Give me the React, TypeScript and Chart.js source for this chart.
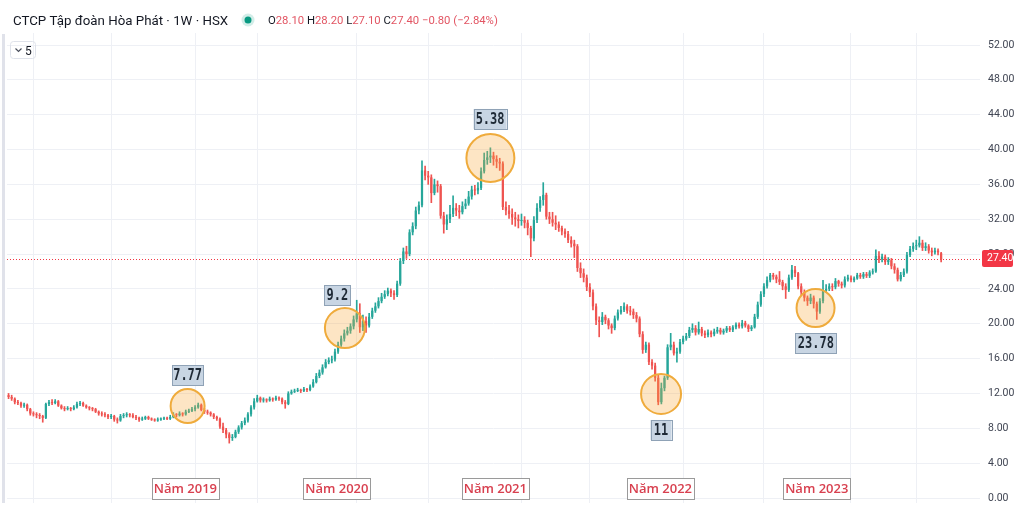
import React, { useEffect, useRef } from "react";
import { Chart, registerables } from "chart.js";

Chart.register(...registerables);

// Weekly OHLC of HPG, oldest first
const opens = [
  11.8, 11.6, 11.4, 11.0, 10.9, 10.6, 10.7, 10.2, 9.7, 9.6,
  9.5, 9.4, 9.2, 10.8, 11.0, 10.9, 11.1, 10.6, 10.3, 10.2,
  10.3, 10.2, 10.4, 10.8, 10.9, 10.6, 10.4, 10.3, 10.2, 9.9,
  9.7, 9.6, 9.5, 9.3, 9.4, 9.0, 8.9, 9.4, 9.5, 9.6,
  9.5, 9.3, 9.2, 9.0, 9.1, 9.3, 9.1, 9.0, 8.9, 9.0,
  9.1, 9.2, 9.1, 9.3, 9.6, 9.5, 9.7, 9.6, 9.9, 10.0,
  10.2, 10.4, 10.7, 10.1, 9.9, 9.8, 9.6, 9.3, 9.1, 8.2,
  7.8, 7.3, 6.9, 7.0, 7.6, 8.1, 8.6, 8.9, 9.6, 10.4,
  11.1, 11.5, 11.2, 11.3, 11.2, 11.4, 11.3, 11.5, 11.4, 11.0,
  10.8, 12.0, 12.2, 12.3, 12.4, 12.3, 12.5, 12.4, 12.8, 13.3,
  14.0, 14.4, 15.0, 15.6, 15.8, 15.9, 16.8, 17.6, 18.3, 18.9,
  19.2, 19.7, 20.5, 21.2, 19.6, 20.3, 19.8, 20.8, 21.5, 22.0,
  22.6, 23.1, 23.4, 23.8, 23.5, 23.3, 24.6, 27.2, 28.3, 28.0,
  30.5, 31.2, 33.0, 33.6, 37.6, 37.0, 36.8, 35.0, 36.0, 35.8,
  32.4, 31.4, 32.0, 32.6, 33.3, 33.0, 32.8, 33.5, 33.8, 34.6,
  35.4, 35.3, 35.6, 37.5, 38.8, 39.1, 39.3, 38.9, 38.6, 38.4,
  33.4, 33.0, 32.6, 32.2, 32.0, 31.8, 31.9, 31.6, 31.0, 29.8,
  31.9, 33.3, 34.2, 34.8, 32.3, 32.0, 31.6, 31.4, 31.0, 30.6,
  30.3, 29.6, 29.2, 28.9, 26.4, 25.8, 25.3, 24.2, 23.6, 22.0,
  20.4, 20.2, 20.8, 20.4, 19.8, 19.5, 20.6, 21.3, 21.6, 22.0,
  21.5, 21.4, 21.0, 20.6, 18.8, 17.0, 17.6, 15.6, 15.2, 13.8,
  11.0, 12.6, 13.8, 17.3, 17.6, 16.6, 16.8, 17.9, 18.3, 18.6,
  19.3, 19.5, 19.0, 19.4, 18.9, 18.7, 19.0, 18.8, 19.1, 19.3,
  19.0, 19.2, 19.5, 19.3, 19.6, 19.9, 19.7, 20.1, 19.8, 19.4,
  19.6, 20.8, 22.2, 23.4, 24.3, 25.0, 25.6, 25.4, 25.1, 24.8,
  24.3, 23.9, 25.3, 26.2, 25.8, 24.3, 23.6, 23.0, 22.6, 23.0,
  22.3, 21.4, 22.6, 23.8, 24.0, 24.3, 24.2, 24.9, 24.6, 24.4,
  25.1, 25.3, 25.0, 25.2, 25.6, 25.4, 25.7, 25.5, 25.9, 26.0,
  27.8, 27.4, 27.7, 27.1, 27.3, 26.6, 26.2, 25.1, 25.6, 26.0,
  27.9, 28.6, 28.9, 29.0, 29.3, 28.7, 28.9, 28.4, 28.2, 28.4, 28.1,
];

const highs = [
  12.0, 11.8, 11.5, 11.2, 11.0, 10.9, 10.8, 10.3, 9.9, 9.8,
  9.7, 9.5, 10.9, 11.2, 11.3, 11.3, 11.2, 10.7, 10.5, 10.5,
  10.4, 10.6, 11.0, 11.1, 11.0, 10.7, 10.5, 10.4, 10.3, 10.0,
  9.9, 9.8, 9.6, 9.6, 9.5, 9.2, 9.6, 9.7, 9.8, 9.7,
  9.7, 9.5, 9.3, 9.3, 9.4, 9.4, 9.2, 9.1, 9.2, 9.2,
  9.3, 9.3, 9.5, 9.8, 9.7, 9.9, 9.8, 10.1, 10.2, 10.4,
  10.6, 10.9, 10.8, 10.3, 10.1, 9.9, 9.7, 9.4, 9.2, 8.6,
  8.0, 7.5, 7.3, 7.8, 8.3, 8.8, 9.2, 9.8, 10.6, 11.4,
  11.8, 11.6, 11.5, 11.4, 11.6, 11.5, 11.7, 11.6, 11.5, 11.2,
  12.2, 12.4, 12.5, 12.6, 12.5, 12.7, 12.6, 13.0, 13.6, 14.3,
  14.7, 15.3, 15.9, 16.1, 16.3, 17.1, 17.9, 18.6, 19.3, 19.6,
  20.0, 20.9, 22.7, 22.3, 21.0, 20.8, 21.2, 21.8, 22.4, 23.0,
  23.5, 23.8, 24.1, 24.0, 23.8, 24.9, 27.5, 28.7, 28.9, 30.8,
  31.6, 33.4, 34.0, 38.7, 38.1, 37.5, 37.1, 36.6, 36.4, 36.0,
  32.8, 32.5, 33.6, 34.7, 33.8, 33.6, 34.0, 34.3, 35.2, 35.8,
  35.9, 36.2, 37.9, 39.6, 39.8, 40.2, 39.7, 39.3, 39.0, 38.6,
  34.0, 33.6, 33.2, 32.8, 32.5, 32.6, 32.3, 31.9, 31.2, 32.3,
  33.8, 34.6, 36.2, 35.0, 32.8, 32.8, 32.4, 31.7, 31.2, 30.9,
  30.6, 30.0, 29.6, 29.1, 27.0, 26.3, 25.6, 24.6, 23.9, 22.3,
  20.8, 21.3, 21.0, 20.6, 20.0, 20.9, 21.6, 22.0, 22.4, 22.2,
  22.0, 21.7, 21.3, 20.8, 19.1, 17.9, 17.8, 15.9, 15.5, 14.1,
  13.2, 14.0, 17.6, 18.9, 17.9, 17.2, 18.2, 18.6, 18.9, 19.6,
  20.0, 19.8, 20.2, 19.6, 19.2, 19.3, 19.2, 19.4, 19.6, 19.5,
  19.4, 19.7, 19.7, 19.8, 20.1, 20.1, 20.4, 20.3, 19.9, 19.8,
  21.1, 22.5, 23.7, 24.6, 25.4, 25.8, 25.8, 25.6, 26.0, 25.0,
  24.6, 25.6, 26.7, 26.6, 25.9, 24.6, 23.9, 23.2, 23.4, 23.2,
  22.5, 22.9, 25.0, 24.5, 24.6, 24.6, 25.2, 25.0, 24.8, 25.4,
  25.6, 25.5, 25.4, 25.8, 25.8, 25.9, 25.9, 26.1, 26.3, 28.5,
  28.3, 28.0, 27.9, 27.6, 27.5, 26.9, 26.4, 25.9, 26.3, 28.2,
  28.9, 29.3, 29.6, 30.0, 29.6, 29.3, 29.1, 28.7, 28.7, 28.6, 28.2,
];

const lows = [
  11.4, 11.2, 10.8, 10.7, 10.4, 10.4, 10.0, 9.5, 9.4, 9.2,
  9.1, 8.7, 9.1, 10.6, 10.7, 10.8, 10.5, 10.2, 10.0, 10.1,
  10.0, 10.1, 10.3, 10.6, 10.5, 10.3, 10.1, 10.0, 9.8, 9.5,
  9.4, 9.3, 9.1, 9.1, 8.8, 8.6, 8.8, 9.2, 9.3, 9.3,
  9.2, 9.0, 8.8, 8.9, 9.0, 9.0, 8.9, 8.8, 8.8, 8.9,
  9.0, 9.0, 9.0, 9.2, 9.3, 9.4, 9.4, 9.5, 9.8, 9.9,
  10.0, 10.3, 10.0, 9.7, 9.6, 9.4, 9.1, 8.9, 8.0, 7.5,
  6.9, 6.3, 6.6, 6.9, 7.4, 7.9, 8.4, 8.7, 9.4, 10.2,
  11.0, 11.0, 11.0, 11.0, 11.1, 11.1, 11.2, 11.2, 10.8, 10.3,
  10.7, 11.9, 12.1, 12.2, 12.1, 12.2, 12.2, 12.3, 12.7, 13.2,
  13.8, 14.2, 14.9, 15.4, 15.5, 15.7, 16.6, 17.4, 18.0, 18.7,
  18.9, 19.4, 20.2, 19.0, 19.2, 19.0, 19.6, 20.6, 21.3, 21.8,
  22.4, 22.9, 23.2, 23.1, 22.8, 23.1, 24.4, 26.9, 27.5, 27.8,
  30.2, 30.9, 32.6, 33.4, 36.5, 36.0, 33.9, 34.8, 35.1, 32.1,
  30.4, 30.8, 31.6, 32.3, 32.4, 32.1, 32.6, 33.2, 33.6, 34.3,
  34.8, 34.9, 35.4, 37.3, 38.3, 38.5, 38.2, 37.9, 37.6, 33.1,
  32.5, 32.1, 31.4, 31.2, 31.0, 31.3, 31.0, 30.2, 27.7, 29.5,
  31.6, 32.9, 33.6, 32.0, 31.5, 31.2, 30.8, 30.6, 30.2, 29.9,
  29.3, 28.8, 27.6, 26.0, 25.3, 24.8, 23.8, 23.1, 21.6, 19.9,
  18.5, 19.9, 20.0, 19.4, 18.9, 19.3, 20.4, 21.1, 21.4, 21.2,
  21.0, 20.6, 20.2, 18.5, 16.6, 16.7, 15.3, 14.8, 13.4, 10.7,
  10.8, 12.3, 13.6, 17.0, 16.4, 15.6, 16.6, 17.7, 18.1, 18.4,
  19.0, 18.7, 18.8, 18.6, 18.4, 18.5, 18.5, 18.6, 18.9, 18.8,
  18.8, 19.0, 19.1, 19.1, 19.4, 19.5, 19.5, 19.6, 19.1, 19.2,
  19.5, 20.6, 22.0, 23.1, 24.1, 24.8, 25.1, 24.7, 24.5, 23.9,
  22.9, 23.7, 25.1, 25.4, 24.0, 23.3, 22.6, 22.1, 22.3, 21.8,
  20.5, 21.2, 22.4, 23.6, 23.8, 23.8, 24.0, 24.3, 24.1, 24.2,
  24.9, 24.8, 24.8, 25.1, 25.2, 25.2, 25.3, 25.3, 25.7, 25.9,
  27.0, 27.1, 26.8, 26.8, 26.3, 25.8, 24.9, 24.9, 25.4, 25.8,
  27.7, 28.3, 28.5, 28.8, 28.4, 28.4, 28.1, 27.8, 28.0, 27.9, 27.1,
];

const closes = [
  11.6, 11.4, 11.0, 10.9, 10.6, 10.7, 10.2, 9.7, 9.6, 9.5,
  9.4, 9.2, 10.8, 11.0, 10.9, 11.1, 10.6, 10.3, 10.2, 10.3,
  10.2, 10.4, 10.8, 10.9, 10.6, 10.4, 10.3, 10.2, 9.9, 9.7,
  9.6, 9.5, 9.3, 9.4, 9.0, 8.9, 9.4, 9.5, 9.6, 9.5,
  9.3, 9.2, 9.0, 9.1, 9.3, 9.1, 9.0, 8.9, 9.0, 9.1,
  9.2, 9.1, 9.3, 9.6, 9.5, 9.7, 9.6, 9.9, 10.0, 10.2,
  10.4, 10.7, 10.1, 9.9, 9.8, 9.6, 9.3, 9.1, 8.2, 7.8,
  7.3, 6.9, 7.0, 7.6, 8.1, 8.6, 8.9, 9.6, 10.4, 11.1,
  11.5, 11.2, 11.3, 11.2, 11.4, 11.3, 11.5, 11.4, 11.0, 10.8,
  12.0, 12.2, 12.3, 12.4, 12.3, 12.5, 12.4, 12.8, 13.3, 14.0,
  14.4, 15.0, 15.6, 15.8, 15.9, 16.8, 17.6, 18.3, 18.9, 19.2,
  19.7, 20.5, 21.2, 19.6, 20.3, 19.8, 20.8, 21.5, 22.0, 22.6,
  23.1, 23.4, 23.8, 23.5, 23.3, 24.6, 27.2, 28.3, 28.0, 30.5,
  31.2, 33.0, 33.6, 37.6, 37.0, 36.8, 35.0, 36.0, 35.8, 32.4,
  31.4, 32.0, 32.6, 33.3, 33.0, 32.8, 33.5, 33.8, 34.6, 35.4,
  35.3, 35.6, 37.5, 38.8, 39.1, 39.3, 38.9, 38.6, 38.4, 33.4,
  33.0, 32.6, 32.2, 32.0, 31.8, 31.9, 31.6, 31.0, 29.8, 31.9,
  33.3, 34.2, 34.8, 32.3, 32.0, 31.6, 31.4, 31.0, 30.6, 30.3,
  29.6, 29.2, 28.9, 26.4, 25.8, 25.3, 24.2, 23.6, 22.0, 20.4,
  20.2, 20.8, 20.4, 19.8, 19.5, 20.6, 21.3, 21.6, 22.0, 21.5,
  21.4, 21.0, 20.6, 18.8, 17.0, 17.6, 15.6, 15.2, 13.8, 11.0,
  12.6, 13.8, 17.3, 17.6, 16.6, 16.8, 17.9, 18.3, 18.6, 19.3,
  19.5, 19.0, 19.4, 18.9, 18.7, 19.0, 18.8, 19.1, 19.3, 19.0,
  19.2, 19.5, 19.3, 19.6, 19.9, 19.7, 20.1, 19.8, 19.4, 19.6,
  20.8, 22.2, 23.4, 24.3, 25.0, 25.6, 25.4, 25.1, 24.8, 24.3,
  23.9, 25.3, 26.2, 25.8, 24.3, 23.6, 23.0, 22.6, 23.0, 22.3,
  21.4, 22.6, 23.8, 24.0, 24.3, 24.2, 24.9, 24.6, 24.4, 25.1,
  25.3, 25.0, 25.2, 25.6, 25.4, 25.7, 25.5, 25.9, 26.0, 27.8,
  27.4, 27.7, 27.1, 27.3, 26.6, 26.2, 25.1, 25.6, 26.0, 27.9,
  28.6, 28.9, 29.0, 29.3, 28.7, 28.9, 28.4, 28.2, 28.4, 28.2, 27.4,
];

// empty weeks kept on the right of the last candle (TradingView right margin)
const rightMarginWeeks = 12;
// y axis tick values
const yTickValues = [0, 4, 8, 12, 16, 20, 24, 28, 32, 36, 40, 44, 48, 52];
// weeks where the time grid lines fall
const gridWeeks = [8, 33, 60, 80, 112, 135, 165, 187, 217, 243, 271, 292];

// highlighted points: week index, price at circle centre, label text, price at label centre
const markerWeeks = [57.6, 108.2, 155.0, 209.9, 259.6];
const markerPrices = [10.56, 19.51, 39.03, 11.94, 21.81];
const markerTexts = ["7.77", "9.2", "5.38", "11", "23.78"];
const markerLabelWeeks = [57.6, 105.8, 154.9, 209.9, 259.7];
const markerLabelPrices = [14.12, 23.3, 43.51, 7.81, 17.79];

// year notes under the chart
const yearTexts = ["Năm 2019", "Năm 2020", "Năm 2021", "Năm 2022", "Năm 2023"];
const yearWeeks = [56.9, 105.6, 156.6, 209.7, 260.0];
const yearPrice = 1.09;

const title = "CTCP Tập đoàn Hòa Phát · 1W · HSX";

// styles
const UP = "#26a69a";
const DOWN = "#ef5350";
const PRICE_RED = "#f23645";
const markerRadii = [17, 20, 24, 20, 19];
const markerBoxW = [31, 26, 33, 21, 41];

function roundRect(ctx: CanvasRenderingContext2D, x: number, y: number, w: number, h: number, r: number) {
  ctx.beginPath();
  ctx.moveTo(x + r, y);
  ctx.lineTo(x + w - r, y);
  ctx.quadraticCurveTo(x + w, y, x + w, y + r);
  ctx.lineTo(x + w, y + h - r);
  ctx.quadraticCurveTo(x + w, y + h, x + w - r, y + h);
  ctx.lineTo(x + r, y + h);
  ctx.quadraticCurveTo(x, y + h, x, y + h - r);
  ctx.lineTo(x, y + r);
  ctx.quadraticCurveTo(x, y, x + r, y);
  ctx.closePath();
}

const fmt = (v: number) => v.toFixed(2);

const overlayPlugin = {
  id: "overlay",
  beforeDatasetsDraw(chart: any) {
    const { ctx, chartArea, scales } = chart;
    const last = closes[closes.length - 1];
    const py = Math.round(scales.y.getPixelForValue(last)) + 0.5;
    ctx.save();
    ctx.strokeStyle = PRICE_RED;
    ctx.lineWidth = 1;
    ctx.setLineDash([1, 2]);
    ctx.beginPath();
    ctx.moveTo(chartArea.left, py);
    ctx.lineTo(chartArea.right, py);
    ctx.stroke();
    ctx.restore();
  },
  afterDatasetsDraw(chart: any) {
    const { ctx, scales } = chart;
    const xs = scales.x;
    const ys = scales.y;
    ctx.save();
    // circles
    markerWeeks.forEach((w, k) => {
      const cx = xs.getPixelForValue(w);
      const cy = ys.getPixelForValue(markerPrices[k]);
      ctx.beginPath();
      ctx.arc(cx, cy, markerRadii[k], 0, Math.PI * 2);
      ctx.fillStyle = "rgba(247, 170, 60, 0.30)";
      ctx.fill();
      ctx.lineWidth = 2;
      ctx.strokeStyle = "#efab3c";
      ctx.stroke();
    });
    // value boxes
    markerLabelWeeks.forEach((w, k) => {
      const cx = xs.getPixelForValue(w);
      const cy = ys.getPixelForValue(markerLabelPrices[k]);
      const bw = markerBoxW[k];
      const bh = 20;
      ctx.fillStyle = "#c8d5e3";
      ctx.fillRect(cx - bw / 2, cy - bh / 2, bw, bh);
      ctx.lineWidth = 1;
      ctx.strokeStyle = "#8fa2b6";
      ctx.strokeRect(Math.round(cx - bw / 2) + 0.5, Math.round(cy - bh / 2) + 0.5, bw, bh);
      ctx.save();
      ctx.translate(cx, cy + 1);
      ctx.scale(1, 1.25);
      ctx.fillStyle = "#1e2935";
      ctx.font = 'bold 12px "DejaVu Sans Mono"';
      ctx.textAlign = "center";
      ctx.textBaseline = "middle";
      ctx.fillText(markerTexts[k], 0, 0);
      ctx.restore();
    });
    // year boxes
    yearWeeks.forEach((w, k) => {
      const cx = xs.getPixelForValue(w);
      const cy = ys.getPixelForValue(yearPrice);
      const bw = 67;
      const bh = 21;
      const x0 = Math.round(cx - bw / 2) + 0.5;
      const y0 = Math.round(cy - bh / 2) + 0.5;
      ctx.fillStyle = "#ffffff";
      ctx.fillRect(x0, y0, bw, bh);
      ctx.strokeStyle = "#9a9a9a";
      ctx.lineWidth = 1;
      ctx.strokeRect(x0, y0, bw, bh);
      ctx.fillStyle = "#d8404f";
      ctx.font = '600 13px "Open Sans"';
      ctx.textAlign = "center";
      ctx.textBaseline = "middle";
      ctx.fillText(yearTexts[k], cx, cy + 1);
    });
    ctx.restore();
  },
  afterDraw(chart: any) {
    const { ctx, chartArea, scales } = chart;
    const ys = scales.y;
    const n = closes.length;
    const last = closes[n - 1];
    ctx.save();
    // price tag on the axis
    const py = ys.getPixelForValue(last);
    ctx.fillStyle = PRICE_RED;
    roundRect(ctx, chartArea.right + 2, Math.round(py) - 9, 31, 17, 2);
    ctx.fill();
    ctx.fillStyle = "#ffffff";
    ctx.font = '10.5px "Roboto"';
    ctx.textAlign = "left";
    ctx.textBaseline = "middle";
    ctx.fillText(fmt(last), chartArea.right + 7, Math.round(py) - 0.5);

    // left panel edge
    ctx.fillStyle = "#e0e2ea";
    ctx.fillRect(2, 34, 3, chartArea.bottom - 34);

    // header
    ctx.textBaseline = "alphabetic";
    ctx.fillStyle = "#131722";
    ctx.font = '13.3px "Roboto"';
    ctx.fillText(title, 13, 25);
    // live dot
    ctx.beginPath();
    ctx.arc(248, 20, 6.5, 0, Math.PI * 2);
    ctx.fillStyle = "rgba(8, 153, 129, 0.18)";
    ctx.fill();
    ctx.beginPath();
    ctx.arc(248, 20, 3.5, 0, Math.PI * 2);
    ctx.fillStyle = "#089981";
    ctx.fill();
    // OHLC legend
    const o = opens[n - 1], h = highs[n - 1], l = lows[n - 1];
    const prev = closes[n - 2];
    const ch = last - prev;
    const pct = (ch / prev) * 100;
    const sign = (v: number) => (v < 0 ? "\u2212" : "+") + Math.abs(v).toFixed(2);
    const parts: [string, string][] = [
      ["O", "#131722"], [fmt(o) + " ", "#e25563"],
      ["H", "#131722"], [fmt(h) + " ", "#e25563"],
      ["L", "#131722"], [fmt(l) + " ", "#e25563"],
      ["C", "#131722"], [fmt(last) + " ", "#e25563"],
      [sign(ch) + " (" + sign(pct) + "%)", "#e25563"],
    ];
    ctx.font = '11.3px "Roboto"';
    let x = 268;
    parts.forEach(([t, c]) => {
      ctx.fillStyle = c;
      ctx.fillText(t, x, 24);
      x += ctx.measureText(t).width;
    });
    // indicator toggle box
    ctx.strokeStyle = "#dfe2ea";
    ctx.lineWidth = 1;
    roundRect(ctx, 10.5, 41.5, 25, 17, 3);
    ctx.stroke();
    ctx.strokeStyle = "#4a4f5c";
    ctx.lineWidth = 1.2;
    ctx.beginPath();
    ctx.moveTo(15.5, 48.5);
    ctx.lineTo(18.5, 51.5);
    ctx.lineTo(21.5, 48.5);
    ctx.stroke();
    ctx.fillStyle = "#131722";
    ctx.font = '12px "Roboto"';
    ctx.fillText("5", 25, 55);
    ctx.restore();
  },
};

export default function App() {
  const ref = useRef<HTMLCanvasElement | null>(null);

  useEffect(() => {
    if (!ref.current) return;
    const total = closes.length + rightMarginWeeks;
    const labels = Array.from({ length: total }, (_, i) => "W" + i);
    const colors = closes.map((c, i) => (c >= opens[i] ? UP : DOWN));
    const wickData = lows.map((l, i) => [
      Math.min(l, opens[i], closes[i]),
      Math.max(highs[i], opens[i], closes[i]),
    ]);
    const bodyData = opens.map((o, i) => [o, closes[i]]);

    const pxPerUnit = 453 / 52;
    const top = 33;
    const bottom = 503;
    const yMax = 52 + (45 - top) / pxPerUnit;
    const yMin = -(bottom - 498) / pxPerUnit;

    const chart = new Chart(ref.current, {
      type: "bar",
      data: {
        labels,
        datasets: [
          {
            label: "wick",
            data: wickData as any,
            backgroundColor: colors,
            barThickness: 1,
            grouped: false,
            order: 2,
          } as any,
          {
            label: "body",
            data: bodyData as any,
            backgroundColor: colors,
            barPercentage: 0.72,
            categoryPercentage: 1,
            minBarLength: 1,
            grouped: false,
            order: 1,
          } as any,
        ],
      },
      options: {
        responsive: false,
        animation: false,
        devicePixelRatio: 1,
        layout: { padding: { left: 7, right: 0, top, bottom: 513 - bottom } },
        plugins: { legend: { display: false }, tooltip: { enabled: false } },
        scales: {
          x: {
            type: "category",
            offset: true,
            ticks: { display: false },
            border: { display: false },
            grid: {
              drawTicks: false,
              offset: false,
              color: (c: any) => (gridWeeks.includes(c.index) ? "#eef0f5" : "rgba(0,0,0,0)"),
            },
            afterFit: (s: any) => {
              s.height = 0;
            },
          },
          y: {
            position: "right",
            min: yMin,
            max: yMax,
            border: { display: false },
            grid: { color: "#eef0f5", drawTicks: true, tickLength: 8, tickColor: "rgba(0,0,0,0)" },
            ticks: {
              padding: 0,
              color: "#3f4452",
              font: { family: "Roboto", size: 10.5 },
              callback: (v: any) => Number(v).toFixed(2),
            },
            afterBuildTicks: (s: any) => {
              s.ticks = yTickValues.map((v) => ({ value: v }));
            },
            afterFit: (s: any) => {
              s.width = 44;
            },
          },
        },
      },
      plugins: [overlayPlugin],
    } as any);
    return () => chart.destroy();
  }, []);

  return (
    <div style={{ position: "absolute", left: 0, top: 0, width: 1024, height: 513, background: "#ffffff" }}>
      <canvas ref={ref} width={1024} height={513} style={{ display: "block" }} />
    </div>
  );
}
